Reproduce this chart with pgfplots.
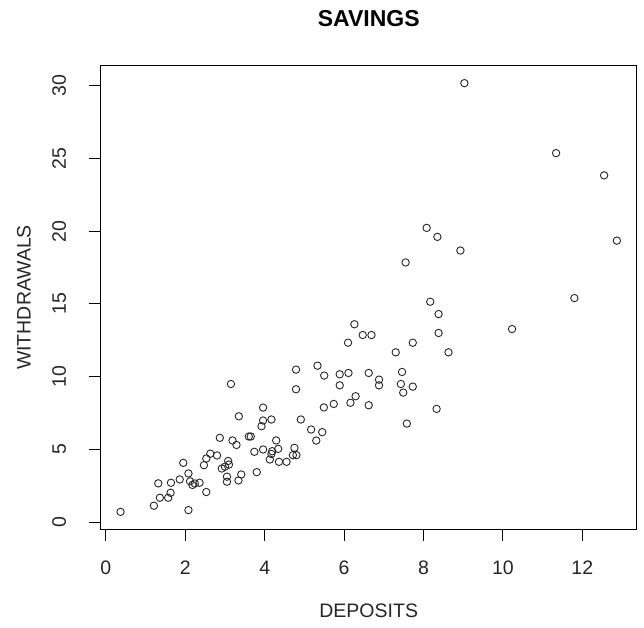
\documentclass[border=0pt]{standalone}
\usepackage{fontspec}
\setmainfont{Liberation Sans}
\usepackage{pgfplots}
\pgfplotsset{compat=1.18}
\begin{document}
\begin{tikzpicture}
\path[use as bounding box] (-100.7bp,-99bp) rectangle (543.3bp,529bp);
\begin{axis}[
  at={(0,0)}, anchor=south west,
  scale only axis, width=536bp, height=463bp,
  xmin=-0.13, xmax=13.37, ymin=-0.48, ymax=31.36,
  xtick={0,2,4,6,8,10,12}, ytick={0,5,10,15,20,25,30},
  tick align=outside, major tick length=11.5bp,
  tick pos=left,
  axis line style={line width=1bp, black},
  tick style={line width=1bp, black},
  /pgf/number format/assume math mode=true,
  tick label style={font=\fontsize{19.5bp}{23bp}\selectfont, text=black!85},
  xticklabel style={anchor=north, inner sep=0pt},
  xticklabel shift=20bp,
  yticklabel style={rotate=90, anchor=south, inner sep=0pt},
  yticklabel shift=23bp,
  title={SAVINGS},
  title style={at={(axis description cs:0.5,1.0886)}, anchor=center, font=\bfseries\fontsize{23bp}{27bp}\selectfont},
  xlabel={DEPOSITS},
  xlabel style={at={(axis description cs:0.5,-0.176)}, anchor=center, font=\fontsize{19.5bp}{23bp}\selectfont, text=black!85},
  ylabel={WITHDRAWALS},
  ylabel style={at={(axis description cs:-0.1431,0.5)}, anchor=center, rotate=0, font=\fontsize{19.5bp}{23bp}\selectfont, text=black!85},
]
\addplot[only marks, mark=o, mark size=3.7bp, mark options={line width=0.9bp, black!85}] table {
x y
0.37 0.70
1.21 1.12
1.36 1.67
1.57 1.67
1.63 2.01
1.32 2.66
1.64 2.70
1.86 2.93
1.95 4.07
2.08 3.34
2.08 0.82
2.12 2.80
2.18 2.55
2.24 2.65
2.36 2.70
2.53 2.06
2.47 3.91
2.53 4.37
2.63 4.70
2.80 4.58
2.87 5.79
2.92 3.68
3.00 3.80
3.05 3.12
3.08 4.20
3.10 3.95
3.05 2.77
3.19 5.61
3.29 5.30
3.15 9.49
3.35 7.27
3.34 2.86
3.41 3.27
3.60 5.88
3.65 5.88
3.74 4.83
3.80 3.43
3.96 7.87
3.96 6.98
3.92 6.59
4.17 7.05
3.96 4.99
4.29 5.61
4.34 5.03
4.19 4.87
4.17 4.68
4.13 4.30
4.36 4.14
4.55 4.14
4.75 5.10
4.71 4.60
4.80 4.60
4.79 10.48
4.79 9.13
4.91 7.05
5.17 6.36
5.45 6.18
5.30 5.60
5.49 7.88
5.33 10.75
5.50 10.07
5.74 8.12
5.89 10.16
5.89 9.40
6.11 10.25
6.10 12.33
6.16 8.20
6.29 8.65
6.26 13.60
6.47 12.86
6.69 12.86
6.62 10.25
6.62 8.03
6.88 9.79
6.88 9.40
7.30 11.67
7.46 10.32
7.43 9.49
7.49 8.90
7.73 9.31
7.58 6.77
7.73 12.33
7.55 17.85
8.08 20.23
8.35 19.61
8.93 18.67
8.17 15.15
8.38 14.30
8.38 13.00
8.63 11.67
8.33 7.78
9.03 30.18
10.23 13.27
11.34 25.37
11.80 15.40
12.55 23.84
12.87 19.35
};
\end{axis}
\end{tikzpicture}
\end{document}
